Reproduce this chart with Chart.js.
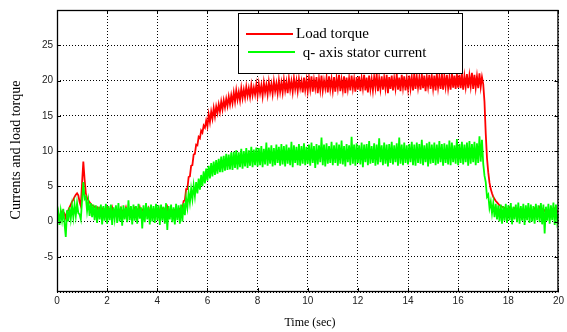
<!DOCTYPE html>
<html>
<head>
<meta charset="utf-8">
<script src="https://cdn.jsdelivr.net/npm/chart.js@4.4.1/dist/chart.umd.min.js"></script>
<style>
  html, body { margin: 0; padding: 0; background: #fff; }
  #myChart { display: block; }
</style>
</head>
<body>
<canvas id="myChart" width="567" height="332"></canvas>
<script>
// sampled every 0.05 s from t = 0 to t = 20
const sampleStep = 0.05
const xTicks = [0, 2, 4, 6, 8, 10, 12, 14, 16, 18, 20]
const yTicks = [-5, 0, 5, 10, 15, 20, 25]
const seriesNames = ["Load torque", " q- axis stator current"]

const loadTorque = [
    0.6,1.2,0.4,1.0,1.4,0.8,1.1,0.5,1.3,1.6, 2.0,2.4,2.8,3.1,3.5,3.8,4.0,3.7,2.8,2.2,
    5.5,8.5,6.0,4.0,3.3,3.0,2.7,2.5,2.3,2.2, 2.1,1.8,2.0,1.6,1.9,1.5,1.8,1.4,1.7,1.5,
    1.9,1.2,1.7,1.4,2.0,1.3,1.6,1.8,1.1,1.7, 1.5,1.9,1.2,1.6,1.4,2.0,1.3,1.7,1.5,1.8,
    1.2,1.6,1.9,1.3,1.7,1.4,2.0,1.1,1.6,1.8, 1.3,1.7,1.5,1.9,1.2,1.6,1.4,1.8,1.3,1.7,
    1.5,1.9,1.2,1.6,1.8,1.3,1.7,1.4,2.0,1.2, 1.6,1.8,1.3,1.7,1.5,1.9,1.4,1.6,1.8,1.5,
    1.8,2.9,3.0,4.6,4.6,6.3,6.4,7.9,8.0,9.5, 9.6,10.9,10.8,12.0,11.8,12.9,12.6,13.6,13.3,14.3,
    13.5,15.2,14.1,15.6,14.6,16.1,14.9,16.3,15.4,16.6, 15.6,17.0,15.9,17.2,16.2,17.4,16.4,17.7,16.6,17.9,
    16.8,18.3,17.0,18.6,17.3,18.4,17.2,18.9,17.5,18.7, 17.6,19.1,17.8,18.9,17.7,19.3,17.9,19.0,18.0,19.4,
    17.9,19.5,18.2,19.3,17.8,19.7,18.3,19.4,18.0,19.8, 18.4,19.5,18.1,19.9,18.5,19.6,18.2,20.0,18.4,19.7,
    18.3,20.1,18.6,19.8,18.2,20.2,18.7,19.9,18.4,20.3, 18.8,20.0,18.5,20.2,18.9,19.9,18.3,20.4,18.7,20.1,
    18.5,20.3,18.8,20.6,18.4,20.1,18.9,20.5,18.2,20.2, 18.7,20.7,18.6,20.0,18.9,20.4,18.3,20.6,18.8,20.2,
    18.6,20.5,18.4,20.3,18.9,20.8,18.5,20.1,18.7,20.6, 18.2,20.4,18.8,20.3,18.6,20.7,18.9,20.2,18.4,20.5,
    18.7,20.6,18.5,20.3,18.9,20.8,18.6,20.4,18.3,20.7, 18.8,20.2,18.6,20.5,19.0,20.9,18.5,20.3,18.8,20.6,
    18.7,20.4,18.9,20.8,18.2,20.5,18.8,20.7,18.6,20.3, 18.9,20.9,18.7,20.4,18.5,20.8,19.0,20.6,18.6,20.3,
    18.8,20.7,18.9,20.5,18.6,21.0,18.8,20.6,19.0,20.4, 18.7,20.9,18.9,20.7,18.5,20.5,19.1,20.8,18.8,20.6,
    18.9,20.7,18.6,20.9,19.0,20.5,18.8,21.0,18.7,20.6, 19.1,20.8,18.9,20.4,18.7,21.1,19.0,20.7,18.8,20.9,
    19.0,20.8,18.9,21.0,18.7,20.6,19.1,20.9,18.9,20.7, 19.2,21.1,18.8,20.8,19.0,20.6,18.9,21.0,19.1,20.5,
    19.5,17.0,12.5,9.0,7.0,5.5,4.6,4.0,3.5,3.2, 2.9,2.7,2.5,2.3,2.2,2.1,2.0,1.9,1.8,1.8,
    1.6,1.9,1.3,1.7,1.5,1.8,1.2,1.6,1.9,1.4, 1.7,1.3,1.8,1.5,1.6,1.2,1.9,1.4,1.7,1.5,
    1.3,1.8,1.5,1.6,1.2,1.9,1.4,1.7,1.3,1.6, 1.8,1.4,1.5,1.2,1.7,1.6,1.3,1.8,1.5,1.4,
    1.5
]

const statorCurrent = [
    0.0,1.2,-0.5,1.5,0.2,1.8,-0.3,-2.2,1.6,0.0, 2.0,0.4,2.2,0.6,2.4,0.8,2.6,1.2,1.0,0.3,
    3.0,5.6,3.2,3.5,1.5,2.9,0.8,2.6,0.6,2.4, 0.2,2.3,-0.2,2.1,0.3,2.4,-0.4,2.2,0.1,2.5,
    -0.3,2.2,0.2,2.4,-0.5,2.0,0.4,2.3,-0.2,2.6, 0.0,2.1,-0.6,2.3,0.3,2.0,-0.1,3.0,0.2,2.2,
    -0.4,2.4,0.1,2.2,-0.3,2.5,0.4,2.0,-1.0,2.3, -0.1,2.6,0.3,2.1,-0.4,2.4,0.0,2.2,-0.2,2.5,
    0.2,2.3,-0.5,2.4,0.1,2.1,-0.3,2.6,-1.2,2.2, 0.3,2.4,-0.1,2.0,-0.4,2.5,0.2,2.3,-0.3,2.4,
    0.0,2.6,0.9,3.3,2.0,4.1,2.7,4.6,3.2,5.1, 3.6,5.6,4.0,6.1,4.5,6.6,5.0,7.1,5.4,7.5,
    5.8,7.9,6.1,8.3,6.4,8.5,6.6,8.7,6.8,8.9, 7.0,9.2,7.0,9.3,7.2,9.6,7.3,9.5,7.4,9.8,
    7.3,9.9,7.6,10.1,7.4,9.8,7.7,10.3,7.5,10.0, 7.8,10.4,7.6,10.1,7.9,10.6,7.7,10.2,8.0,10.5,
    7.8,10.4,8.0,10.7,7.7,10.3,8.1,11.2,7.9,10.5, 8.2,10.8,7.8,10.4,8.0,10.9,8.3,10.6,7.9,11.0,
    8.1,10.7,7.8,10.9,8.2,10.5,8.0,11.3,7.7,10.8, 8.3,10.6,8.0,11.0,7.9,10.7,8.2,11.1,8.0,10.6,
    8.2,10.9,7.9,11.2,8.3,10.7,7.6,11.0,8.1,10.8, 8.4,11.9,8.0,10.9,7.8,11.1,8.2,10.7,8.3,11.3,
    8.0,10.8,8.3,11.2,7.9,10.9,8.2,11.5,8.1,10.7, 7.8,11.0,8.4,10.8,8.0,12.0,8.2,10.9,7.9,11.1,
    8.3,10.8,8.1,11.2,7.7,10.9,8.4,11.0,8.0,11.4, 8.2,10.7,8.3,11.1,7.9,10.9,8.1,11.8,8.4,10.8,
    8.0,11.2,8.2,10.9,7.8,11.0,8.3,11.3,8.1,10.8, 8.4,11.1,7.9,11.9,8.2,10.9,8.0,11.2,8.3,10.8,
    8.1,11.0,8.4,11.3,8.0,10.9,7.9,11.2,8.3,11.0, 8.2,11.6,8.0,10.8,8.4,11.1,7.8,11.3,8.2,10.9,
    8.3,11.2,8.0,10.9,8.2,11.4,8.4,11.0,7.9,11.1, 8.3,10.9,8.1,11.5,8.0,11.2,8.4,10.8,8.2,11.7,
    8.0,11.0,8.3,11.3,8.1,10.9,8.4,11.2,7.9,11.4, 8.2,11.0,8.4,11.3,8.0,11.1,8.3,12.1,8.5,11.6,
    8.2,6.5,5.6,3.5,3.8,1.9,2.8,1.2,2.6,0.6, 2.5,0.3,2.3,0.0,2.4,-0.3,2.2,0.1,2.5,-0.2,
    2.3,0.2,2.6,-0.4,2.1,0.3,2.4,-0.1,2.7,-0.3, 2.2,0.1,2.5,-0.5,2.3,0.2,2.6,-0.2,2.4,0.0,
    2.2,-0.3,2.5,0.2,2.3,-0.1,2.6,-0.4,2.4,-1.7, 2.1,0.1,2.5,-0.3,2.3,0.2,2.7,-0.5,2.4,0.0,
    1.0
]

const seriesColors = ["#ff0000", "#00ff00"]
const ctx = document.getElementById('myChart')

function toPoints(values) {
    return values.map((v, i) => ({ x: Math.round(i * sampleStep * 100) / 100, y: v }))
}

// frame, tick marks, legend box and axis titles drawn by hand (matlab look)
const figurePlugin = {
    id: 'figure',
    afterDraw(chart) {
        const c = chart.ctx
        const a = chart.chartArea
        const xs = chart.scales.x
        const ys = chart.scales.y
        c.save()
        c.strokeStyle = '#000'
        c.lineWidth = 1.3
        c.strokeRect(a.left + 0.5, a.top + 0.5, a.right - a.left - 1, a.bottom - a.top - 1)

        // inward tick marks
        c.lineWidth = 1
        c.beginPath()
        xTicks.forEach(v => {
            const px = Math.round(xs.getPixelForValue(v)) + 0.5
            c.moveTo(px, a.bottom); c.lineTo(px, a.bottom - 4)
            c.moveTo(px, a.top); c.lineTo(px, a.top + 4)
        })
        yTicks.forEach(v => {
            const py = Math.round(ys.getPixelForValue(v)) + 0.5
            c.moveTo(a.left, py); c.lineTo(a.left + 4, py)
            c.moveTo(a.right, py); c.lineTo(a.right - 4, py)
        })
        c.stroke()

        // legend
        c.fillStyle = '#fff'
        c.fillRect(238, 13, 224, 60)
        c.strokeRect(238.5, 13.5, 224, 60)
        c.lineWidth = 2
        c.strokeStyle = seriesColors[0]
        c.beginPath(); c.moveTo(246, 34); c.lineTo(293, 34); c.stroke()
        c.strokeStyle = seriesColors[1]
        c.beginPath(); c.moveTo(248, 52); c.lineTo(295, 52); c.stroke()
        c.fillStyle = '#000'
        c.font = '15px "Liberation Serif", serif'
        c.textBaseline = 'middle'
        c.textAlign = 'left'
        c.fillText(seriesNames[0], 296, 34)
        c.fillText(seriesNames[1], 299, 53)

        // axis titles
        c.font = '12px "Liberation Serif", serif'
        c.textAlign = 'center'
        c.fillText('Time (sec)', 310, 323)
        c.font = '14px "Liberation Serif", serif'
        c.translate(16, 150)
        c.rotate(-Math.PI / 2)
        c.fillText('Currents and load torque', 0, 0)
        c.restore()
    }
}

new Chart(ctx, {
    type: 'line',
    data: {
        datasets: [{
            label: seriesNames[0],
            data: toPoints(loadTorque),
            borderColor: seriesColors[0],
            borderWidth: 1.8,
            pointRadius: 0,
            order: 2
        }, {
            label: seriesNames[1],
            data: toPoints(statorCurrent),
            borderColor: seriesColors[1],
            borderWidth: 1.8,
            pointRadius: 0,
            order: 1
        }]
    },
    options: {
        responsive: false,
        animation: false,
        devicePixelRatio: 1,
        layout: { padding: { left: 0, right: 4, top: 10, bottom: 0 } },
        plugins: {
            legend: { display: false },
            tooltip: { enabled: false }
        },
        scales: {
            x: {
                type: 'linear',
                min: 0,
                max: 20,
                afterBuildTicks: scale => { scale.ticks = xTicks.map(v => ({ value: v })) },
                afterFit: scale => { scale.height = 40 },
                ticks: {
                    color: '#222',
                    font: { family: '"Liberation Sans", Arial, sans-serif', size: 10 },
                    padding: 3,
                    maxRotation: 0
                },
                grid: { color: '#000', lineWidth: 1, drawTicks: false },
                border: { dash: [1, 2], display: false }
            },
            y: {
                min: -10,
                max: 30,
                afterBuildTicks: scale => { scale.ticks = [-10].concat(yTicks, [30]).map(v => ({ value: v })) },
                afterFit: scale => { scale.width = 57 },
                ticks: {
                    color: '#222',
                    font: { family: '"Liberation Sans", Arial, sans-serif', size: 10 },
                    padding: 4,
                    callback: v => yTicks.includes(v) ? String(v) : ''
                },
                grid: { color: '#000', lineWidth: 1, drawTicks: false },
                border: { dash: [1, 2], display: false }
            }
        }
    },
    plugins: [figurePlugin]
})
</script>
</body>
</html>
